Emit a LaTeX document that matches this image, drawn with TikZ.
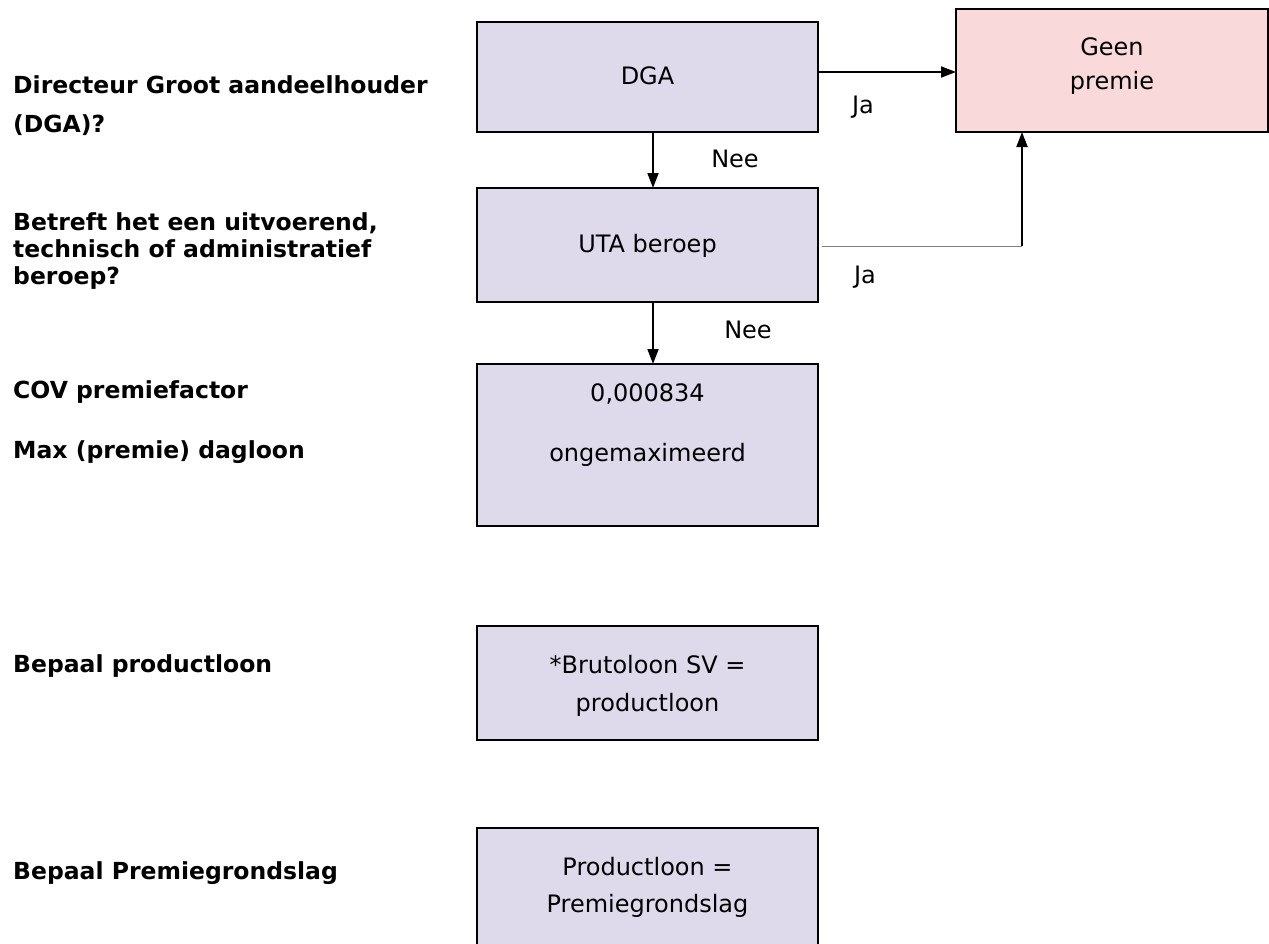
\documentclass[tikz,border=0pt]{standalone}
\usepackage{fontspec}
\setmainfont{DejaVu Sans}
\usetikzlibrary{arrows.meta,calc}
\definecolor{lav}{HTML}{DEDAEB}
\definecolor{pinkbox}{HTML}{F9D9D9}
\definecolor{thingray}{HTML}{808080}
\begin{document}
\begin{tikzpicture}[x=1pt,y=-1pt,
  box/.style={draw=black, line width=1.4pt, fill=lav, rectangle, inner sep=0pt, outer sep=0pt, minimum width=341pt},
  txt/.style={font=\fontsize{24}{38}\selectfont, anchor=base, inner sep=0pt},
  lbl/.style={font=\fontsize{23.5}{27}\selectfont\bfseries, anchor=base west, inner sep=0pt},
  arr/.style={line width=1.8pt, -{Triangle[length=15pt,width=11pt]}}]
\useasboundingbox (0,0) rectangle (1269,943);

% left labels
\node[lbl] (l1a) at (13,93) {Directeur Groot aandeelhouder};
\node[lbl] (l1b) at (13,132) {(DGA)?};
\node[lbl] (l2a) at (13,230) {Betreft het een uitvoerend,};
\node[lbl] (l2b) at (13,257) {technisch of administratief};
\node[lbl] (l2c) at (13,284) {beroep?};
\node[lbl] (l3a) at (13,398) {COV premiefactor};
\node[lbl] (l3b) at (13,458) {Max (premie) dagloon};
\node[lbl] (l4) at (13,672) {Bepaal productloon};
\node[lbl] (l5) at (13,879) {Bepaal Premiegrondslag};

% boxes
\node[box, minimum height=110pt] (dga) at (647.5,77) {};
\node[box, minimum height=114pt] (uta) at (647.5,245) {};
\node[box, minimum height=162pt] (val) at (647.5,445) {};
\node[box, minimum height=114pt] (prod) at (647.5,683) {};
\node[box, minimum height=117pt] (prem) at (647.5,886.5) {};
\node[box, fill=pinkbox, minimum width=312pt, minimum height=123pt] (geen) at (1112,70.5) {};

% box texts
\node[txt] (tdga) at (647.5,84) {DGA};
\node[txt] (tuta) at (647.5,252) {UTA beroep};
\node[txt] (tval1) at (647.5,401) {0,000834};
\node[txt] (tval2) at (647.5,461) {ongemaximeerd};
\node[txt] (tprod1) at (647.5,673) {*Brutoloon SV =};
\node[txt] (tprod2) at (647.5,711) {productloon};
\node[txt] (tprem1) at (647.5,875) {Productloon =};
\node[txt] (tprem2) at (647.5,912) {Premiegrondslag};
\node[txt] (tgeen1) at (1112,55) {Geen};
\node[txt] (tgeen2) at (1112,89) {premie};

% edge labels
\node[txt] (nee1) at (735,167) {Nee};
\node[txt] (nee2) at (748,338) {Nee};
\node[txt] (ja1) at (863,113) {Ja};
\node[txt] (ja2) at (865,283) {Ja};

% connectors
\coordinate (ax) at (653,0);
\coordinate (jy) at (0,72);
\coordinate (bend) at (1022,246);
\draw[arr] (dga.south -| ax) -- (uta.north -| ax);
\draw[arr] (uta.south -| ax) -- (val.north -| ax);
\draw[arr] (dga.east |- jy) -- (geen.west |- jy);
\draw[thingray, line width=1pt] ($(uta.east |- bend)+(4,0)$) -- (bend);
\draw[arr, line width=2pt] (bend) -- (geen.south -| bend);
\end{tikzpicture}
\end{document}
